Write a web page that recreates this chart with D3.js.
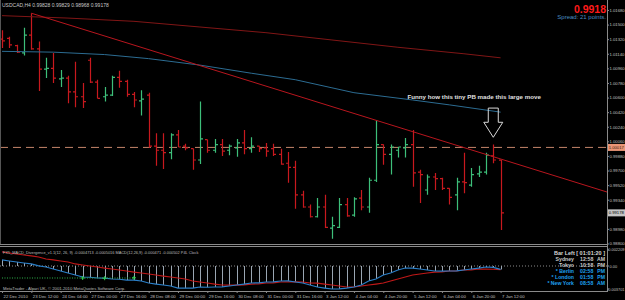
<!DOCTYPE html>
<html>
<head>
<meta charset="utf-8">
<script src="https://cdn.jsdelivr.net/npm/d3@7"></script>
<style>
  body { margin: 0; background: #000; }
  svg { display: block; font-family: "Liberation Sans", Arial, sans-serif; }
</style>
</head>
<body>
<svg id="chart" width="625" height="300"></svg>
<script>
// USDCAD H4 bars, 22 Dec 2010 .. 7 Jan 2011
const dateLabels = ["22 Dec 2010", "23 Dec 12:00", "24 Dec 04:00", "27 Dec 00:00", "27 Dec 16:00",
  "28 Dec 08:00", "29 Dec 00:00", "29 Dec 16:00", "30 Dec 08:00", "31 Dec 00:00", "31 Dec 16:00",
  "3 Jan 12:00", "4 Jan 04:00", "4 Jan 20:00", "5 Jan 12:00", "6 Jan 04:00", "6 Jan 20:00", "7 Jan 12:00"];

const open = [1.0132, 1.0133, 1.0124, 1.0115, 1.0137, 1.0120, 1.0095, 1.0096, 1.0083, 1.0084,
  1.0067, 1.0061, 1.0106, 1.0079, 1.0061, 1.0063, 1.0085, 1.0080, 1.0064, 1.0056,
  1.0063, 1.0000, 0.9995, 0.9992, 1.0014, 1.0000, 0.9997, 0.9983, 1.0008, 0.9995,
  1.0002, 0.9995, 0.9998, 1.0004, 0.9997, 1.0000, 0.9998, 0.9997, 0.9990, 0.9979,
  0.9974, 0.9940, 0.9925, 0.9913, 0.9925, 0.9899, 0.9900, 0.9928, 0.9915, 0.9936,
  0.9925, 0.9958, 1.0002, 0.9990, 0.9995, 0.9998, 1.0002, 0.9968, 0.9946, 0.9962,
  0.9960, 0.9948, 0.9940, 0.9956, 0.9952, 0.9966, 0.9968, 0.9988, 0.99828];
const high = [1.0143, 1.0135, 1.0125, 1.0146, 1.0164, 1.0129, 1.0109, 1.0115, 1.0094, 1.0087,
  1.0104, 1.0078, 1.0109, 1.0082, 1.0073, 1.0087, 1.0093, 1.0082, 1.0067, 1.0069,
  1.0066, 1.0016, 1.0016, 1.0016, 1.0020, 1.0003, 0.9997, 1.0055, 1.0008, 1.0009,
  1.0009, 1.0002, 1.0009, 1.0020, 1.0011, 1.0000, 1.0004, 1.0003, 0.9997, 0.9993,
  0.9982, 0.9945, 0.9928, 0.9936, 0.9940, 0.9913, 0.9936, 0.9936, 0.9937, 0.9946,
  0.9961, 1.0032, 1.0002, 1.0002, 0.9999, 1.0010, 1.0020, 0.9971, 0.9965, 0.9967,
  0.9961, 0.9948, 0.9961, 0.9992, 0.9973, 0.9976, 0.9992, 1.0002, 0.99829];
const low = [1.0121, 1.0121, 1.0115, 1.0112, 1.0119, 1.0068, 1.0084, 1.0078, 1.0073, 1.0053,
  1.0048, 1.0047, 1.0078, 1.0059, 1.0055, 1.0062, 1.0072, 1.0061, 1.0048, 1.0038,
  0.9998, 0.9976, 0.9972, 0.9984, 0.9999, 0.9995, 0.9971, 0.9978, 0.9992, 0.9992,
  0.9988, 0.9989, 0.9987, 0.9990, 0.9992, 0.9993, 0.9987, 0.9988, 0.9977, 0.9955,
  0.9923, 0.9924, 0.9912, 0.9912, 0.9899, 0.9886, 0.9899, 0.9913, 0.9913, 0.9921,
  0.9918, 0.9956, 0.9977, 0.9965, 0.9986, 0.9986, 0.9950, 0.9930, 0.9940, 0.9946,
  0.9946, 0.9928, 0.9921, 0.9942, 0.9950, 0.9962, 0.9965, 0.9979, 0.98968];
const close = [1.0130, 1.0125, 1.0116, 1.0137, 1.0120, 1.0095, 1.0096, 1.0084, 1.0084, 1.0067,
  1.0061, 1.0055, 1.0079, 1.0059, 1.0063, 1.0085, 1.0080, 1.0064, 1.0057, 1.0058,
  1.0000, 0.9995, 0.9992, 1.0014, 0.9999, 0.9998, 0.9983, 1.0009, 0.9995, 1.0002,
  0.9994, 1.0000, 1.0004, 0.9997, 1.0000, 0.9997, 0.9994, 0.9990, 0.9978, 0.9974,
  0.9940, 0.9925, 0.9913, 0.9925, 0.9900, 0.9902, 0.9928, 0.9914, 0.9935, 0.9925,
  0.9958, 1.0002, 0.9990, 0.9999, 0.9999, 1.0002, 0.9967, 0.9965, 0.9962, 0.9960,
  0.9948, 0.9937, 0.9956, 0.9955, 0.9965, 0.9968, 0.9989, 0.9983, 0.99178];

// moving averages, read at a few bars
const maSlowIdx = [0, 9, 18, 27, 36, 45, 54, 63, 68];
const maSlow = [1.0161, 1.0158, 1.0154, 1.0147, 1.0140, 1.0131, 1.0122, 1.0114, 1.0109];
const maMidIdx = [0, 7, 14, 20, 27, 34, 40, 45, 48, 56, 61, 68];
const maMid = [1.0117, 1.0116, 1.0113, 1.0108, 1.0100, 1.0090, 1.0082, 1.0072, 1.0066, 1.0057, 1.0051, 1.0042];

// trend line anchors, horizontal level
const trendIdx = [4, 51];
const trendPrice = [1.0164, 1.0032];
const hLevel = 0.99985;

const priceTicks = [1.0168, 1.0150, 1.0132, 1.0114, 1.0096, 1.0078, 1.0060, 1.0042, 1.0024, 1.0006,
  0.9988, 0.9970, 0.9952, 0.9934, 0.9898, 0.9880];

// MACD panel
const macd = [0.00083, 0.00069, 0.00055, 0.00041, 0.00028, 0.00002, -0.00014, -0.00041, -0.00069, -0.00096,
  -0.00124, -0.00151, -0.00155, -0.00165, -0.00168, -0.00179, -0.00182, -0.00193, -0.00195, -0.00206,
  -0.00234, -0.00248, -0.00261, -0.00275, -0.00303, -0.00305, -0.00303, -0.00289, -0.00292, -0.00289,
  -0.00287, -0.00275, -0.00261, -0.00248, -0.00234, -0.00232, -0.00220, -0.00218, -0.00206, -0.00205,
  -0.00220, -0.00234, -0.00261, -0.00289, -0.00303, -0.00316, -0.00314, -0.00303, -0.00289, -0.00261,
  -0.00206, -0.00179, -0.00124, -0.00096, -0.00055, -0.00028, -0.00030, -0.00041, -0.00055, -0.00069,
  -0.00070, -0.00069, -0.00068, -0.00055, -0.00041, -0.00028, -0.00014, -0.00018, -0.00047];
const signal = [0.00193, 0.00179, 0.00165, 0.00151, 0.00138, 0.00124, 0.00096, 0.00083, 0.00069, 0.00055,
  0.00028, 0.00014, 0.00000, -0.00014, -0.00028, -0.00041, -0.00055, -0.00069, -0.00083, -0.00096,
  -0.00110, -0.00124, -0.00138, -0.00151, -0.00165, -0.00179, -0.00206, -0.00220, -0.00234, -0.00248,
  -0.00261, -0.00263, -0.00262, -0.00259, -0.00248, -0.00246, -0.00234, -0.00232, -0.00220, -0.00219,
  -0.00218, -0.00220, -0.00234, -0.00236, -0.00248, -0.00261, -0.00275, -0.00289, -0.00287, -0.00275,
  -0.00261, -0.00248, -0.00234, -0.00206, -0.00179, -0.00151, -0.00124, -0.00110, -0.00096, -0.00083,
  -0.00082, -0.00069, -0.00068, -0.00055, -0.00054, -0.00041, -0.00042, -0.00045, -0.00050];
const divIdx = [11, 14, 18];
const divVal = [-0.00165, -0.00168, -0.00162];

const clockCities = ["Sydney", "Tokyo", "* Berlin", "* London", "* New York"];
const clockTimes = ["12:58", "10:58", "02:58", "01:58", "08:58"];
const clockAmPm = ["AM", "PM", "PM", "PM", "AM"];

const plotRight = 607;
const svg = d3.select('#chart');
svg.append('rect').attr('width', 625).attr('height', 300).attr('fill', '#000');

const x = d3.scaleLinear().domain([0, 68]).range([2, 500.6]);
const y = d3.scaleLinear().domain([0.98794, 1.01803]).range([244, 0]);
const yInd = d3.scaleLinear().domain([0, 0.0022]).range([266, 250]);
const px = i => Math.round(x(i)) + 0.5;

svg.append('clipPath').attr('id', 'mainClip')
  .append('rect').attr('x', 0).attr('y', 0).attr('width', plotRight).attr('height', 244);
const main = svg.append('g').attr('clip-path', 'url(#mainClip)');

// horizontal level
main.append('line')
  .attr('x1', 0).attr('x2', plotRight)
  .attr('y1', y(hLevel)).attr('y2', y(hLevel))
  .attr('stroke', '#c4846a').attr('stroke-width', 1).attr('stroke-dasharray', '8,5');

// bars
const bars = d3.range(open.length).map(i => ({ i, o: open[i], h: high[i], l: low[i], c: close[i] }));
main.selectAll('path.bar')
  .data(bars)
  .enter()
  .append('path')
  .attr('class', 'bar')
  .attr('d', d => {
    const cx = px(d.i);
    return `M${cx},${y(d.h)}V${y(d.l)}M${cx - 2.5},${y(d.o)}H${cx}M${cx},${y(d.c)}H${cx + 2.5}`;
  })
  .attr('fill', 'none')
  .attr('stroke', d => d.c >= d.o ? '#3dbf7a' : '#c8191e')
  .attr('stroke-width', 1.2);

// moving averages
const lineGen = d3.line().x(d => x(d[0])).y(d => y(d[1]));
main.append('path')
  .attr('d', lineGen(maSlowIdx.map((v, k) => [v, maSlow[k]])))
  .attr('fill', 'none').attr('stroke', '#801616').attr('stroke-width', 1);
main.append('path')
  .attr('d', lineGen(maMidIdx.map((v, k) => [v, maMid[k]])))
  .attr('fill', 'none').attr('stroke', '#2c6c92').attr('stroke-width', 1);

// trend line, extended as a ray
const slope = (trendPrice[1] - trendPrice[0]) / (trendIdx[1] - trendIdx[0]);
const endIdx = x.invert(plotRight);
main.append('path')
  .attr('d', lineGen([[trendIdx[0], trendPrice[0]], [endIdx, trendPrice[0] + slope * (endIdx - trendIdx[0])]]))
  .attr('fill', 'none').attr('stroke', '#b8161e').attr('stroke-width', 1);

// annotation and hollow arrow
svg.append('text')
  .attr('x', x(55.3)).attr('y', y(1.0058))
  .attr('fill', '#e0e0e0').attr('font-size', 6.2).attr('font-weight', 'bold')
  .text('Funny how this tiny PB made this large move');
const ax = x(67), aTop = y(1.0047), aTip = y(1.0011);
svg.append('path')
  .attr('d', `M${ax - 5},${aTop}H${ax + 5}V${aTip - 15}H${ax + 9.5}L${ax},${aTip}L${ax - 9.5},${aTip - 15}H${ax - 5}Z`)
  .attr('fill', 'none').attr('stroke', '#d8d8d8').attr('stroke-width', 1);

// header texts
svg.append('text').attr('x', 2).attr('y', 7)
  .attr('fill', '#c8c8c8').attr('font-size', 5)
  .text('USDCAD,H4  0.99828 0.99829 0.98968 0.99178');
svg.append('text').attr('x', 606).attr('y', 13).attr('text-anchor', 'end')
  .attr('fill', '#ff1a1a').attr('font-size', 10.5).attr('font-weight', 'bold')
  .text(d3.format('.4f')(close[close.length - 1]));
svg.append('text').attr('x', 606).attr('y', 18.5).attr('text-anchor', 'end')
  .attr('fill', '#4a8ec0').attr('font-size', 6)
  .text('Spread: 21 points.');

// frame lines
svg.append('line').attr('x1', 0.5).attr('x2', 0.5).attr('y1', 0).attr('y2', 244)
  .attr('stroke', '#555');
svg.append('line').attr('x1', plotRight + 0.5).attr('x2', plotRight + 0.5).attr('y1', 0).attr('y2', 292)
  .attr('stroke', '#8a8a8a');
[244.5, 246.5].forEach(v => svg.append('line').attr('x1', 0).attr('x2', plotRight).attr('y1', v).attr('y2', v)
  .attr('stroke', '#8a8a8a'));

// right price axis
const yAxis = d3.axisRight(y).tickValues(priceTicks).tickSize(2).tickFormat(d3.format('.5f'));
const ya = svg.append('g').attr('transform', `translate(${plotRight},0)`).call(yAxis);
ya.select('.domain').remove();
ya.selectAll('line').attr('stroke', '#8a8a8a');
ya.selectAll('text').attr('fill', '#c0c0c0').attr('font-size', 4.2).attr('x', 2.5);

function priceBox(val, yy, fill, txt) {
  svg.append('rect').attr('x', plotRight + 1).attr('y', yy - 3.5).attr('width', 17).attr('height', 7).attr('fill', fill);
  svg.append('text').attr('x', plotRight + 2).attr('y', yy + 1.6)
    .attr('fill', txt).attr('font-size', 4.2).text(val);
}
priceBox('1.00017', y(hLevel), '#eb9676', '#3a1a10');
priceBox(d3.format('.5f')(close[close.length - 1]), y(close[close.length - 1]), '#c4c4c4', '#000');

// MACD panel
svg.append('line').attr('x1', 0).attr('x2', plotRight).attr('y1', yInd(0)).attr('y2', yInd(0))
  .attr('stroke', '#8a8a8a').attr('stroke-dasharray', '1,2');
svg.selectAll('line.hist')
  .data(macd)
  .enter()
  .append('line')
  .attr('class', 'hist')
  .attr('x1', (d, i) => px(i)).attr('x2', (d, i) => px(i))
  .attr('y1', yInd(0)).attr('y2', d => yInd(d))
  .attr('stroke', '#9aa6b2').attr('stroke-width', 1);
const indLine = d3.line().x((d, i) => x(i)).y(d => yInd(d));
svg.append('path').attr('d', indLine(signal))
  .attr('fill', 'none').attr('stroke', '#c01818').attr('stroke-width', 1.2);
svg.append('path').attr('d', indLine(macd))
  .attr('fill', 'none').attr('stroke', '#2a7fc8').attr('stroke-width', 1.2);
svg.append('line').attr('x1', x(0)).attr('x2', x(divIdx[divIdx.length - 1]))
  .attr('y1', yInd(divVal[0])).attr('y2', yInd(divVal[0]))
  .attr('stroke', '#2fb04a').attr('stroke-dasharray', '1,1.5');
svg.selectAll('path.div')
  .data(divIdx)
  .enter()
  .append('path')
  .attr('class', 'div')
  .attr('d', (d, k) => `M${x(d) - 2},${yInd(divVal[k])}h4M${x(d)},${yInd(divVal[k]) - 2}v4`)
  .attr('stroke', '#30d050').attr('stroke-width', 1);

svg.append('text').attr('x', 3).attr('y', 253.5)
  .attr('fill', '#bcbcbc').attr('font-size', 3.9)
  .text('FX5_MACD_Divergence_v1.1(12, 26, 9) -0.0004713 -0.0005016  MACD(12,26,9) -0.000471 -0.000502  P4L Clock');
svg.append('text').attr('x', 3).attr('y', 289.5)
  .attr('fill', '#bcbcbc').attr('font-size', 4.2)
  .text('MetaTrader - Alpari UK, \u00a9 2001-2010 MetaQuotes Software Corp.');

// indicator axis labels
[[0.002209, '0.002209'], [0, '0.00'], [-0.003701, '-0.003701']].forEach(([v, t]) => {
  const yy = Math.min(yInd(v), 289);
  svg.append('line').attr('x1', plotRight).attr('x2', plotRight + 2).attr('y1', yy).attr('y2', yy).attr('stroke', '#8a8a8a');
  svg.append('text').attr('class', 'indlab').attr('x', plotRight + 2.5).attr('y', yy + 1.5)
    .attr('fill', '#c0c0c0').attr('font-size', 3.9).text(t);
});
// keep right-hand labels inside the picture
svg.selectAll('text').each(function () {
  const b = this.getBBox();
  if (b.x + b.width > 624.5 && b.x > plotRight) {
    this.setAttribute('x', +this.getAttribute('x') - (b.x + b.width - 624.5));
  }
});

// clock block
svg.append('text').attr('x', 605).attr('y', 255).attr('text-anchor', 'end')
  .attr('fill', '#d8d8d8').attr('font-size', 5.5).attr('font-weight', 'bold')
  .text('Bar Left [ 01:01:20 ]');
clockCities.forEach((c, k) => {
  const col = k < 2 ? '#c8c8c8' : '#1ea0f0';
  const yy = 261 + k * 6;
  svg.append('text').attr('x', 574).attr('y', yy).attr('text-anchor', 'end')
    .attr('fill', col).attr('font-size', 5.2).attr('font-weight', 'bold').text(c);
  svg.append('text').attr('x', 580).attr('y', yy)
    .attr('fill', col).attr('font-size', 5.2).attr('font-weight', 'bold').text(clockTimes[k]);
  svg.append('text').attr('x', 605).attr('y', yy).attr('text-anchor', 'end')
    .attr('fill', col).attr('font-size', 5.2).attr('font-weight', 'bold').text(clockAmPm[k]);
});

// bottom date axis
const xAxis = d3.axisBottom(x)
  .tickValues(dateLabels.map((d, k) => k * 4))
  .tickSize(2)
  .tickFormat((d, k) => dateLabels[k]);
const xa = svg.append('g').attr('transform', 'translate(0,291)').call(xAxis);
xa.select('.domain').attr('d', `M0,0.5H${plotRight}`).attr('stroke', '#8a8a8a');
xa.selectAll('line').attr('stroke', '#8a8a8a');
xa.selectAll('text').attr('fill', '#c0c0c0').attr('font-size', 4.3)
  .attr('text-anchor', 'start').attr('dx', 1).attr('y', 4);
</script>
</body>
</html>
